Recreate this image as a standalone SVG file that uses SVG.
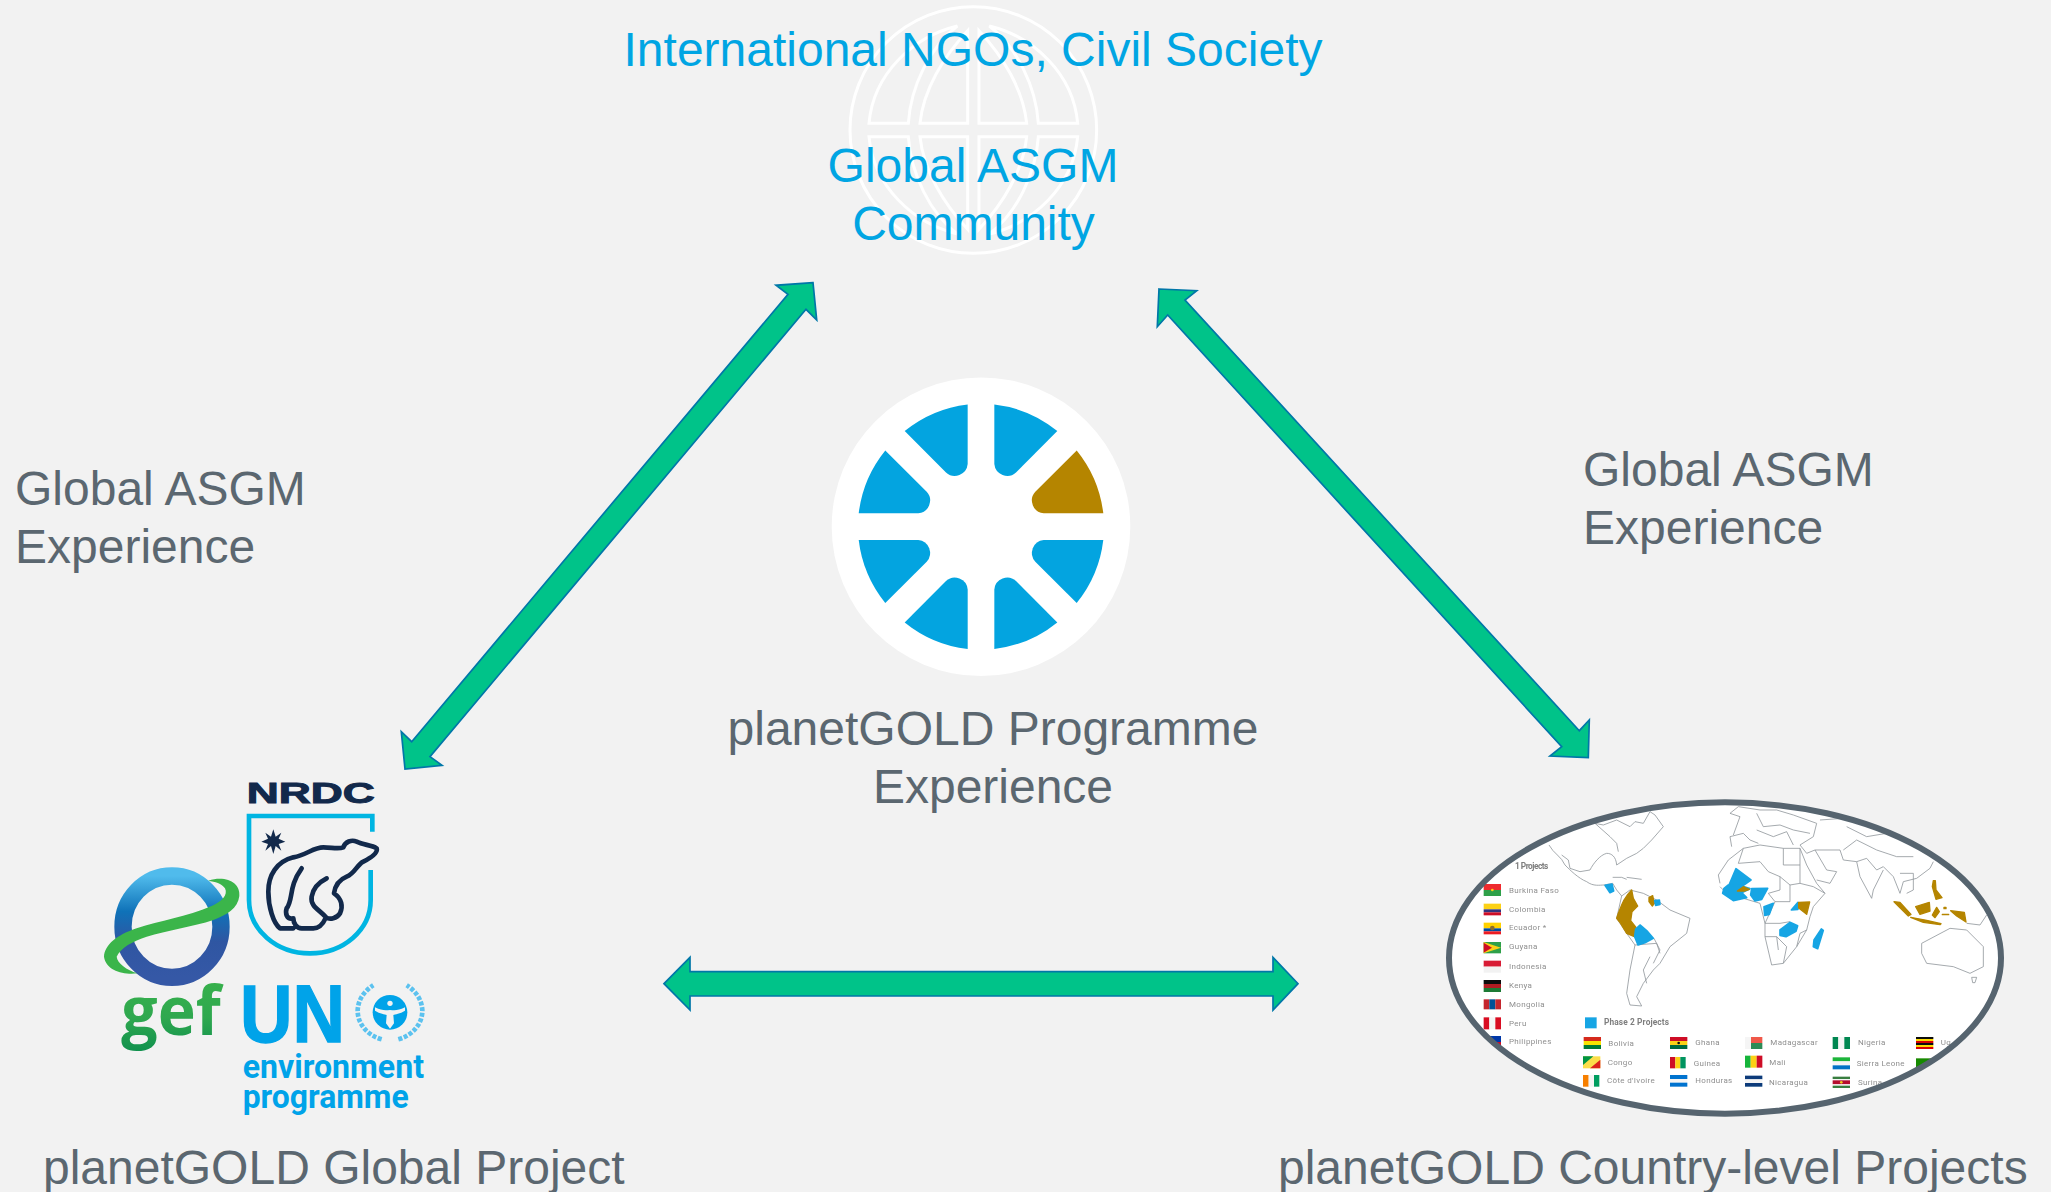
<svg xmlns="http://www.w3.org/2000/svg" xmlns:xlink="http://www.w3.org/1999/xlink" width="2051" height="1192" viewBox="0 0 2051 1192">
<style>
.t{font-family:"Liberation Sans",Arial,sans-serif;font-size:48px}
.blue{fill:#00A5E3}
.grey{fill:#5B6770}
.arrow{fill:#00C389;stroke:#0077A8;stroke-width:1.7}
.wedge{fill:#03A4E0}
.globe{fill:none;stroke:#FFFFFF;stroke-width:9}
.land{fill:none;stroke:#8E9499;stroke-width:2.4;stroke-linejoin:round}
.pb{fill:#18A5E4;stroke:#18A5E4;stroke-width:5;stroke-linejoin:round}
.pg{fill:#B58500;stroke:#B58500;stroke-width:4;stroke-linejoin:round}
.lg{font-family:Roboto,"Liberation Sans",sans-serif;font-size:24px;fill:#8F8F8F;letter-spacing:1px}
.lb{font-family:Roboto,"Liberation Sans",sans-serif;font-size:25px;font-weight:700;fill:#7E7E7E}
.un{font-family:Roboto,"Liberation Sans",sans-serif;font-weight:700;fill:#00A3E9}
</style>
<defs>
<path id="w" d="M13.33,-122.3A123,123 0 0 1 76.3,-95.7L35,-54.3A13,13 0 0 1 13.33,-62.7Z"/>
<path id="ga" d="M-313,-20H-195C-188,-130 -130,-250 -48,-312C-180,-280 -300,-170 -313,-20Z"/>
<path id="gb" d="M-160,-20H-17V-298C-90,-220 -150,-120 -160,-20Z"/>
<linearGradient id="ring" x1="0" y1="0" x2="0" y2="1">
<stop offset="0" stop-color="#50BBEC"/><stop offset=".35" stop-color="#0F72B8"/><stop offset=".65" stop-color="#2F56A2"/><stop offset="1" stop-color="#3558A6"/>
</linearGradient>
<linearGradient id="gefg" x1="0" y1="0" x2="0" y2="1">
<stop offset="0" stop-color="#3BB54A"/><stop offset=".6" stop-color="#2FA84F"/><stop offset="1" stop-color="#0E8F4E"/>
</linearGradient>
<clipPath id="mapclip"><ellipse cx="1725" cy="958" rx="276" ry="155.7"/></clipPath>
<filter id="soft" x="-5%" y="-5%" width="110%" height="110%"><feGaussianBlur stdDeviation="0.5"/></filter>
</defs>
<rect width="2051" height="1192" fill="#F2F2F2"/>

<g id="community">
<g transform="translate(840,0) scale(.33333) translate(400,390)">
<circle r="370" class="globe"/>
<use xlink:href="#ga" class="globe"/><use xlink:href="#gb" class="globe"/>
<use xlink:href="#ga" class="globe" transform="scale(-1,1)"/><use xlink:href="#gb" class="globe" transform="scale(-1,1)"/>
<use xlink:href="#ga" class="globe" transform="scale(1,-1)"/><use xlink:href="#gb" class="globe" transform="scale(1,-1)"/>
<use xlink:href="#ga" class="globe" transform="scale(-1,-1)"/><use xlink:href="#gb" class="globe" transform="scale(-1,-1)"/>
</g>
<text class="t blue" x="973" y="66" text-anchor="middle">International NGOs, Civil Society</text>
<text class="t blue" x="973" y="181.5" text-anchor="middle">Global ASGM</text>
<text class="t blue" x="973.5" y="239.5" text-anchor="middle">Community</text>
</g>

<g id="connectors">
<polygon class="arrow" points="813,282.7 776,285.3 788,294.3 411.7,741.7 401.3,731.7 405,769 442,765.3 430,756.7 806,309.3 816.7,320"/>
<polygon class="arrow" points="1159,289 1196.7,290.7 1185,300 1579.3,730.7 1589.3,720 1588.3,757.7 1550,756 1561.7,746.7 1167.7,315 1157.3,326.7"/>
<polygon class="arrow" points="664,983.7 690,957.3 690,971.7 1273,971.7 1273,957.3 1298,983.7 1273,1010 1273,996 690,996 690,1010"/>
</g>

<g id="programme">
<circle cx="981" cy="526.7" r="149.3" fill="#FFFFFF"/>
<g transform="translate(981,526.7)">
<use xlink:href="#w" class="wedge"/>
<use xlink:href="#w" class="wedge" transform="scale(-1,1)"/>
<use xlink:href="#w" fill="#B58500" transform="matrix(0,-1,-1,0,0,0)"/>
<use xlink:href="#w" class="wedge" transform="rotate(90)"/>
<use xlink:href="#w" class="wedge" transform="scale(1,-1)"/>
<use xlink:href="#w" class="wedge" transform="rotate(180)"/>
<use xlink:href="#w" class="wedge" transform="matrix(0,1,1,0,0,0)"/>
<use xlink:href="#w" class="wedge" transform="rotate(-90)"/>
</g>
<text class="t grey" x="993" y="745" text-anchor="middle">planetGOLD Programme</text>
<text class="t grey" x="993" y="803" text-anchor="middle">Experience</text>
</g>

<g id="label-left">
<text class="t grey" x="15" y="505">Global ASGM</text>
<text class="t grey" x="15" y="563">Experience</text>
</g>
<g id="label-right">
<text class="t grey" x="1583" y="486">Global ASGM</text>
<text class="t grey" x="1583" y="544">Experience</text>
</g>

<g id="global-project">
<g transform="translate(80,760) scale(.33333)">
<text x="500" y="130" font-family="Liberation Sans,sans-serif" font-weight="700" font-size="90" fill="#12294B" textLength="384" lengthAdjust="spacingAndGlyphs" stroke="#12294B" stroke-width="3">NRDC</text>
<path d="M877,215V168H507V420C507,510 590,580 690,580C790,580 872,510 872,420V330" fill="none" stroke="#00B5E2" stroke-width="14"/>
<polygon points="580,208 587,230 604,218 596,236 616,245 596,252 604,272 587,258 580,282 573,258 556,272 564,252 544,245 564,236 556,218 573,230" fill="#12294B"/>
<path d="M640,505H600C580,490 565,440 565,395C565,345 590,305 640,292C680,285 700,262 730,262C755,262 775,268 790,262C795,245 815,238 830,245C850,255 875,255 890,265C895,280 870,295 850,305C830,315 825,340 800,350C775,360 765,380 762,400C785,415 790,440 780,460C770,475 750,480 738,472M738,472C730,490 720,505 700,505H665C650,505 640,490 640,475C620,480 615,460 620,445C640,420 625,380 665,325M738,472C720,450 690,440 695,410C700,380 720,365 740,355" fill="none" stroke="#12294B" stroke-width="14" stroke-linejoin="round" stroke-linecap="round"/>
<ellipse cx="276" cy="500" rx="147" ry="152" fill="none" stroke="url(#ring)" stroke-width="52"/>
<path d="M385,362C440,345 482,370 478,408C474,445 440,465 400,480C340,500 260,512 200,530C160,542 120,565 110,590C112,610 140,630 172,640C130,645 78,632 72,590C74,555 110,525 170,505C240,482 320,470 395,438C425,425 445,405 435,385C425,370 405,365 385,362Z" fill="#3BB54A"/>
<text x="124" y="824" font-family="Open Sans,Liberation Sans,sans-serif" font-weight="700" font-size="205" fill="url(#gefg)" textLength="298" lengthAdjust="spacingAndGlyphs">gef</text>
<text x="480" y="845" font-family="Liberation Sans,sans-serif" font-weight="700" font-size="243" fill="#00A3E9" stroke="#00A3E9" stroke-width="4" textLength="315" lengthAdjust="spacingAndGlyphs">UN</text>
<circle cx="930" cy="757" r="52" fill="#00A3E9"/>
<path d="M885,742C905,752 915,752 930,750C945,752 955,752 975,742L975,752C960,762 945,762 940,765L942,790L930,806L918,790L920,765C915,762 900,762 885,752Z" fill="#F2F2F2"/>
<circle cx="930" cy="730" r="8" fill="#F2F2F2"/>
<path d="M905,838C860,825 832,790 833,750C835,720 850,695 880,676" fill="none" stroke="#5CC2EF" stroke-width="14" stroke-dasharray="12 5"/>
<path d="M955,838C1000,825 1028,790 1027,750C1025,720 1010,695 980,676" fill="none" stroke="#5CC2EF" stroke-width="14" stroke-dasharray="12 5"/>
<text class="un" x="488" y="955" font-size="97" textLength="544" lengthAdjust="spacingAndGlyphs">environment</text>
<text class="un" x="488" y="1045" font-size="97" textLength="498" lengthAdjust="spacingAndGlyphs">programme</text>
</g>
<text class="t grey" x="43" y="1184">planetGOLD Global Project</text>
</g>

<g id="country-projects">
<ellipse cx="1725" cy="958" rx="276" ry="155.7" fill="#FFFFFF"/>
<g clip-path="url(#mapclip)"><g filter="url(#soft)">
<g transform="translate(1430,790) scale(.33333)">
<path class="land" d="M357,165C370,190 395,200 405,225C420,240 445,265 470,275C490,290 510,285 522,285M395,195L415,210L420,235M420,235L450,245L480,240M480,240C490,220 510,195 530,190C545,190 558,200 560,225L590,205L620,190L640,175L665,150L700,110L675,75L660,65L640,100L615,95L600,110L560,90L520,105L495,100L540,140L560,160L565,185M548,262L575,262L590,268M590,262L635,268"/>
<path class="land" d="M522,285L548,280L560,300L575,318L600,300L640,310L680,330L720,360L780,385L770,430L720,470L690,520L670,540L640,580L620,620L635,648L600,645L590,610L600,540L615,465L590,430L560,385L575,318M615,465L680,460L690,490M672,445L690,480L670,520M650,580L640,540L660,500"/>
<path class="pg" d="M605,300L592,315L582,330L575,345L565,370L560,385L572,400L590,430L613,440L618,412L602,392L606,365L623,348L610,325Z"/>
<path class="pg" d="M657,323L668,317L673,340L667,348L657,335Z"/>
<path class="pb" d="M674,332L688,330L690,343L677,346Z"/>
<path class="pb" d="M525,286L546,282L551,303L540,308Z"/>
<path class="pb" d="M630,405L650,422L670,445L645,458L624,465L614,440L617,417Z"/>

<text class="lb" x="255" y="237" textLength="100">1 Projects</text>
<g id="flags-1">
<rect x="161" y="282" width="52" height="18" fill="#EF2B2D"/><rect x="161" y="300" width="52" height="18" fill="#2FA04A"/><circle cx="187" cy="300" r="4" fill="#FCD116"/>
<rect x="161" y="341" width="52" height="17" fill="#FCD116"/><rect x="161" y="358" width="52" height="9" fill="#33357F"/><rect x="161" y="367" width="52" height="9" fill="#CE1126"/>
<rect x="161" y="398" width="52" height="17" fill="#FFD100"/><rect x="161" y="415" width="52" height="9" fill="#034EA2"/><rect x="161" y="424" width="52" height="9" fill="#ED1C24"/><circle cx="187" cy="414" r="7" fill="#8B6B2A"/>
<rect x="161" y="456" width="52" height="34" fill="#2FA04A"/><path d="M161,456L213,473L161,490Z" fill="#FCD116"/><path d="M161,458L186,473L161,488Z" fill="#CE1126"/>
<rect x="161" y="512" width="52" height="18" fill="#D81E34"/><rect x="161" y="530" width="52" height="18" fill="#F2F2F2"/>
<rect x="161" y="570" width="52" height="12" fill="#111111"/><rect x="161" y="582" width="52" height="12" fill="#B01E23"/><rect x="161" y="594" width="52" height="12" fill="#1F7A35"/>
<rect x="161" y="628" width="17" height="30" fill="#C4272F"/><rect x="178" y="628" width="18" height="30" fill="#015197"/><rect x="196" y="628" width="17" height="30" fill="#C4272F"/>
<rect x="161" y="682" width="17" height="36" fill="#D91023"/><rect x="178" y="682" width="18" height="36" fill="#F5F5F5"/><rect x="196" y="682" width="17" height="36" fill="#D91023"/>
<rect x="161" y="738" width="52" height="18" fill="#0038A8"/><rect x="161" y="756" width="52" height="18" fill="#CE1126"/>
</g>
<text class="lg" x="237" y="308">Burkina Faso</text>
<text class="lg" x="237" y="365">Colombia</text>
<text class="lg" x="237" y="421">Ecuador *</text>
<text class="lg" x="237" y="478">Guyana</text>
<text class="lg" x="237" y="536">Indonesia</text>
<text class="lg" x="237" y="593">Kenya</text>
<text class="lg" x="237" y="650">Mongolia</text>
<text class="lg" x="237" y="707">Peru</text>
<text class="lg" x="237" y="763">Philippines</text>

<rect x="465" y="682" width="35" height="33" fill="#18A5E4"/>
<text class="lb" x="522" y="705" textLength="195">Phase 2 Projects</text>
<g id="flags-2">
<rect x="461" y="741" width="52" height="12" fill="#D52B1E"/><rect x="461" y="753" width="52" height="12" fill="#F9E300"/><rect x="461" y="765" width="52" height="12" fill="#007934"/>
<rect x="459" y="799" width="52" height="36" fill="#FBDE4A"/><path d="M459,835V799H490L459,825Z" fill="#009543"/><path d="M511,799V835H480L511,809Z" fill="#DC241F"/>
<rect x="459" y="855" width="17" height="35" fill="#F77F00"/><rect x="476" y="855" width="16" height="35" fill="#F5F5F5"/><rect x="492" y="855" width="16" height="35" fill="#009E60"/>
<rect x="720" y="741" width="52" height="12" fill="#CE1126"/><rect x="720" y="753" width="52" height="12" fill="#FCD116"/><rect x="720" y="765" width="52" height="12" fill="#006B3F"/><circle cx="746" cy="759" r="4" fill="#111111"/>
<rect x="720" y="801" width="16" height="34" fill="#CE1126"/><rect x="736" y="801" width="15" height="34" fill="#FCD116"/><rect x="751" y="801" width="16" height="34" fill="#009460"/>
<rect x="720" y="855" width="52" height="12" fill="#0073CF"/><rect x="720" y="867" width="52" height="11" fill="#F5F5F5"/><rect x="720" y="878" width="52" height="12" fill="#0073CF"/>
</g>
<text class="lg" x="535" y="767">Bolivia</text>
<text class="lg" x="533" y="825">Congo</text>
<text class="lg" x="531" y="879">Côte d'Ivoire</text>
<text class="lg" x="796" y="766">Ghana</text>
<text class="lg" x="791" y="828">Guinea</text>
<text class="lg" x="796" y="879">Honduras</text>
</g>
<g transform="translate(1700,790) scale(.33333)">
<path class="land" d="M60,280L55,255L85,210L130,175L180,165L250,175L300,175L320,225L350,280L375,310L340,350L330,380L320,420L290,470L250,520L215,525L195,440L195,400L180,340L130,325L90,320L60,290M130,175L115,220L180,215L205,245L240,260L240,300L205,310L225,335L270,335L270,285L300,280L300,175M250,175V225L300,225M240,260L270,285M225,335L195,400L240,400L270,395M300,280L340,290L375,310M195,440L230,440L260,470L250,520M320,420L300,430L290,470M230,440L235,480"/>
<path class="land" d="M95,170L90,140L130,130L150,150L175,160M100,135L120,80L90,70L115,50L180,60L230,60L280,75L350,100L340,140L300,165M170,70L190,110L240,105L280,120L330,130M170,120L220,140L260,125L280,165M300,165L320,190L345,180L380,240L410,245L390,280L350,270M345,180L420,180L430,210L470,215L500,205L530,240L550,230L580,260L600,310L610,275L650,265L690,235L700,215M440,110L500,140L560,130L640,150L700,140M360,90L430,85L500,100L560,85L660,110M430,180L470,150L530,180L590,200L640,200M470,215L480,260L515,325L520,300L550,240M600,250L640,250L640,300L620,310"/>
<path class="land" d="M665,460L750,415L800,420L850,470L850,530L810,550L760,530L680,520L665,490ZM815,562H830L825,578H818Z"/>
<path class="land" d="M800,400L840,405L860,375"/>
<path class="pb" d="M108,236L153,270L125,290L87,285Z"/>
<path class="pb" d="M72,295L85,285L120,287L150,296L125,308L140,323L100,332L68,310Z"/>
<path class="pb" d="M155,296L203,295L185,328L165,333L152,315Z"/>
<path class="pg" d="M112,303L130,290L148,298L135,303Z"/>
<path class="pb" d="M192,350L220,340L208,373L194,376Z"/>
<path class="pb" d="M274,360L294,337L294,358Z"/>
<path class="pg" d="M296,337L329,336L320,373L296,354Z"/>
<path class="pb" d="M240,420L270,397L293,407L288,424L258,440L240,436Z"/>
<path class="pb" d="M342,450L364,417L370,421L353,476L340,470Z"/>
<path class="pg" d="M582,335L600,337L633,373L625,378L597,350Z"/>
<path class="pg" d="M632,382L680,391L723,401L720,404L670,397Z"/>
<path class="pg" d="M647,350L688,337L690,363L660,373Z"/>
<path class="pg" d="M697,375L710,352L718,365L705,383Z"/>
<path class="pg" d="M752,362L793,367L798,396L770,378Z"/>
<path class="pg" d="M700,272L706,272L708,300L726,323L708,328L697,290Z"/>
<path class="pg" d="M732,352H738V356H732ZM727,373H746V374H727Z"/>

<rect x="135" y="741" width="18" height="36" fill="#F5F5F5"/><rect x="153" y="741" width="34" height="18" fill="#F0584A"/><rect x="153" y="759" width="34" height="18" fill="#2E8B57"/>
<rect x="135" y="797" width="17" height="36" fill="#14B53A"/><rect x="152" y="797" width="18" height="36" fill="#FCD116"/><rect x="170" y="797" width="17" height="36" fill="#CE1126"/>
<rect x="135" y="857" width="52" height="11" fill="#0A3A7A"/><rect x="135" y="868" width="52" height="11" fill="#F5F5F5"/><rect x="135" y="879" width="52" height="11" fill="#0A3A7A"/>
<rect x="398" y="741" width="17" height="36" fill="#008751"/><rect x="415" y="741" width="18" height="36" fill="#F5F5F5"/><rect x="433" y="741" width="17" height="36" fill="#008751"/>
<rect x="398" y="802" width="52" height="12" fill="#1EB53A"/><rect x="398" y="814" width="52" height="12" fill="#F5F5F5"/><rect x="398" y="826" width="52" height="12" fill="#0072C6"/>
<rect x="398" y="860" width="52" height="7" fill="#377E3F"/><rect x="398" y="867" width="52" height="4" fill="#F5F5F5"/><rect x="398" y="871" width="52" height="12" fill="#B40A2D"/><rect x="398" y="883" width="52" height="4" fill="#F5F5F5"/><rect x="398" y="887" width="52" height="7" fill="#377E3F"/><circle cx="424" cy="877" r="4" fill="#ECC81D"/>
<rect x="648" y="741" width="52" height="6" fill="#111111"/><rect x="648" y="747" width="52" height="6" fill="#FCDC04"/><rect x="648" y="753" width="52" height="6" fill="#D90000"/><rect x="648" y="759" width="52" height="6" fill="#111111"/><rect x="648" y="765" width="52" height="6" fill="#FCDC04"/><rect x="648" y="771" width="52" height="6" fill="#D90000"/>
<rect x="648" y="805" width="52" height="34" fill="#198A00"/>
<text class="lg" x="211" y="766">Madagascar</text>
<text class="lg" x="208" y="824">Mali</text>
<text class="lg" x="207" y="885">Nicaragua</text>
<text class="lg" x="474" y="766">Nigeria</text>
<text class="lg" x="470" y="828">Sierra Leone</text>
<text class="lg" x="474" y="886">Surina</text>
<text class="lg" x="722" y="766">Ug</text>
</g>
</g></g>
<ellipse cx="1725" cy="958" rx="276" ry="155.7" fill="none" stroke="#56646F" stroke-width="6"/>
<text class="t grey" x="1278" y="1184">planetGOLD Country-level Projects</text>
</g>
</svg>
